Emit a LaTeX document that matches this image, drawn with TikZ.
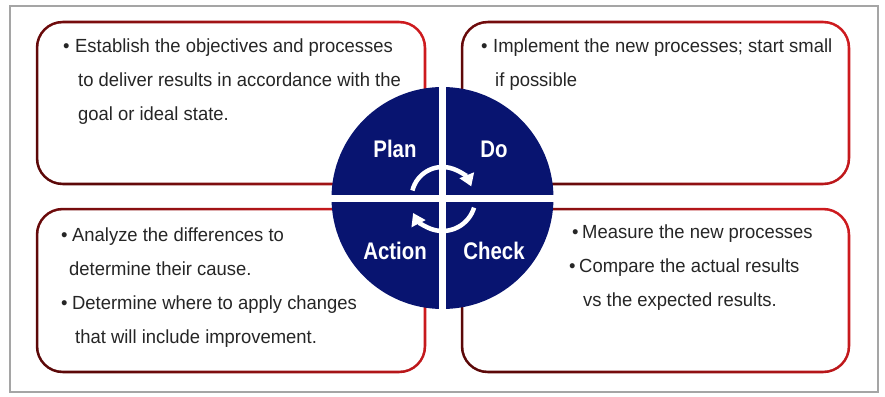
\documentclass[tikz,border=0pt]{standalone}
\usepackage{fontspec}
\setmainfont{Liberation Sans}
\newfontfamily\notefont[FakeStretch=0.97]{Liberation Sans}
\newfontfamily\phasefont[FakeStretch=0.85]{Liberation Sans}
\usepackage{tikz}
\usetikzlibrary{arrows.meta}
\definecolor{pdcanavy}{RGB}{8,20,112}
\definecolor{brightred}{RGB}{205,26,30}
\definecolor{darkred}{RGB}{92,8,8}
\definecolor{notegray}{RGB}{38,38,38}
\definecolor{framegray}{RGB}{165,165,165}
\tikzstyle{quarter} = [rectangle, rounded corners=27pt, minimum width=390.5pt, minimum height=164.5pt,
    bottom color=darkred, top color=brightred, shading angle=-55,
    path picture={\fill [white, rounded corners=24.5pt] ([shift={(2.6pt,2.6pt)}]path picture bounding box.south west) rectangle ([shift={(-2.6pt,-2.6pt)}]path picture bounding box.north east);}]
\tikzstyle{notes} = [anchor=north west, align=left, inner sep=0pt, text=notegray, font=\notefont\fontsize{19}{34}\selectfont]
\tikzstyle{phase} = [anchor=base, inner sep=0pt, text=white, font=\phasefont\bfseries\fontsize{24}{24}\selectfont]
\tikzstyle{cycle} = [white, line width=4.5pt, -{Triangle[length=12pt,width=15pt]}]
\newcommand{\blt}{\makebox[12pt][l]{\textbullet}}

\begin{document}
\begin{tikzpicture}[x=1pt, y=-1pt]
        \useasboundingbox (0,0) rectangle (885,396);
        \draw [framegray, line width=1.5pt] (10,6) rectangle (878,392);

        % the four boxes
        \node (planbox) [quarter] at (231,103) {};
        \node (dobox) [quarter, minimum width=389.5pt] at (655.5,103) {};
        \node (actbox) [quarter, minimum height=165.5pt] at (231,290.5) {};
        \node (checkbox) [quarter, minimum width=389.5pt, minimum height=165.5pt] at (655.5,290.5) {};

        \node (plannote) [notes] at (63,39) {\blt Establish the objectives and processes\\
            \hspace*{15pt}to deliver results in accordance with the\\
            \hspace*{15pt}goal or ideal state.};
        \node (donote) [notes] at (481,39) {\blt Implement the new processes; start small\\
            \hspace*{14pt}if possible};
        \node (actnote) [notes] at (61,228) {\makebox[11pt][l]{\textbullet}Analyze the differences to\\
            \hspace*{8pt}determine their cause.\\
            \makebox[11pt][l]{\textbullet}Determine where to apply changes\\
            \hspace*{14pt}that will include improvement.};
        \node (checknote) [notes] at (569,225) {\hspace*{3pt}\makebox[10pt][l]{\textbullet}Measure the new processes\\
            \makebox[10pt][l]{\textbullet}Compare the actual results\\
            \hspace*{14pt}vs the expected results.};

        % the wheel
        \fill [pdcanavy] (442.5,198) circle (111);
        \fill [white] (439,86) rectangle (446,310);
        \fill [white] (331,194.5) rectangle (554,201.5);

        \node (plan) [phase] at (395,157) {Plan};
        \node (do) [phase] at (494,157) {Do};
        \node (action) [phase] at (395,259) {Action};
        \node (check) [phase] at (494,259) {Check};

        \draw [cycle] (442.5,198) ++(194:31) arc[start angle=194, end angle=338, radius=31];
        \draw [cycle] (442.5,198) ++(17:33) arc[start angle=17, end angle=153, radius=33];
    \end{tikzpicture}
\end{document}
